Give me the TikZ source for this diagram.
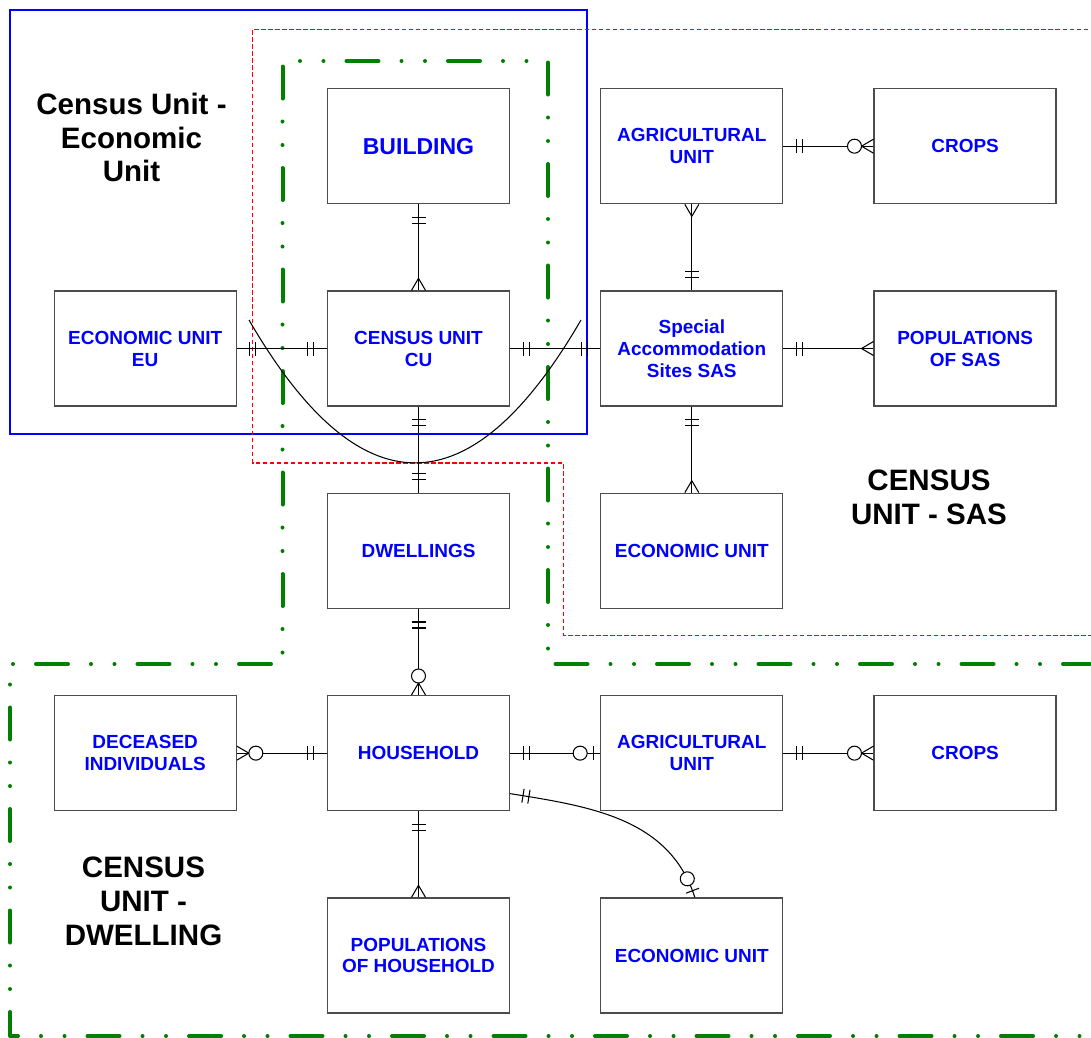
\documentclass[tikz,border=0pt]{standalone}
\usepackage{fontspec}
\setmainfont{Liberation Sans}
\usepackage{xcolor}
\usepackage{tikz}
\usetikzlibrary{positioning, decorations.markings}
\definecolor{entblue}{RGB}{0, 0, 255}
\definecolor{zonegreen}{RGB}{0, 128, 0}
\definecolor{zonered}{RGB}{255, 0, 0}

\begin{document}
\begin{tikzpicture}[node distance=1.72cm and 1.8cm,
        entity/.style={draw=black!70, line width=0.75pt, minimum width=3.64cm,
                    minimum height=2.3cm, inner sep=0pt, align=center, text=entblue,
                    font=\bfseries\fontsize{10.8}{12.5}\selectfont},
        zonelabel/.style={align=center, font=\bfseries\fontsize{16.8}{19.3}\selectfont},
        rel/.style={draw, line width=0.6pt},
        one start/.style={postaction={decorate, decoration={markings,
            mark=at position 0.26cm with {\draw[line width=0.6pt] (0,-0.14cm) -- (0,0.14cm);},
            mark=at position 0.38cm with {\draw[line width=0.6pt] (0,-0.14cm) -- (0,0.14cm);}}}},
        one end/.style={postaction={decorate, decoration={markings,
            mark=at position -0.38cm with {\draw[line width=0.6pt] (0,-0.14cm) -- (0,0.14cm);},
            mark=at position -0.26cm with {\draw[line width=0.6pt] (0,-0.14cm) -- (0,0.14cm);}}}},
        many start/.style={postaction={decorate, decoration={markings,
            mark=at position 0.24cm with {\draw[line width=0.6pt]
                (0,0) -- (-0.24cm,0.14cm) (0,0) -- (-0.24cm,-0.14cm);}}}},
        many end/.style={postaction={decorate, decoration={markings,
            mark=at position -0.24cm with {\draw[line width=0.6pt]
                (0,0) -- (0.24cm,0.14cm) (0,0) -- (0.24cm,-0.14cm);}}}},
        zmany end/.style={many end, postaction={decorate, decoration={markings,
            mark=at position -0.38cm with {\draw[line width=0.6pt, fill=white]
                (0,0) circle (0.14cm);}}}},
        zone end/.style={postaction={decorate, decoration={markings,
            mark=at position -0.14cm with {\draw[line width=0.6pt] (0,-0.14cm) -- (0,0.14cm);},
            mark=at position -0.40cm with {\draw[line width=0.6pt, fill=white]
                (0,0) circle (0.14cm);}}}}]
        \useasboundingbox (0,0) rectangle (21.82,-20.74);

        % zone outlines
        \draw[blue, line width=0.6pt] (0.2,-0.2) rectangle (11.74,-8.68);
        \draw[zonered, line width=0.6pt, dash pattern=on 2.5pt off 1.5pt]
            (21.9,-0.586) -- (5.05,-0.586) -- (5.05,-9.26) -- (11.27,-9.26)
            -- (11.27,-12.71) -- (21.9,-12.71);
        \draw[zonegreen, line width=0.08cm, line cap=round, line join=round,
              dash pattern=on 0.64cm off 0.46cm on 0cm off 0.47cm on 0cm off 0.46cm]
            (21.9,-13.28) -- (10.96,-13.28) -- (10.96,-1.22) -- (5.65,-1.22)
            -- (5.65,-13.28) -- (0.2,-13.28) -- (0.2,-20.72) -- (21.9,-20.72);

        % entities
        \node[entity] (cu) at (8.37,-6.97) {CENSUS UNIT\\CU};
        \node[entity, above=of cu, font=\bfseries\fontsize{13.1}{15}\selectfont]
              (building) {BUILDING};
        \node[entity, left=of cu] (eu) {ECONOMIC UNIT\\EU};
        \node[entity, right=of cu] (sas) {Special\\Accommodation\\Sites SAS};
        \node[entity, above=of sas] (agritop) {AGRICULTURAL\\UNIT};
        \node[entity, right=of agritop] (cropstop) {CROPS};
        \node[entity, right=of sas] (popsas) {POPULATIONS\\OF SAS};
        \node[entity, below=of sas] (eusas) {ECONOMIC UNIT};
        \node[entity, below=of cu] (dwell) {DWELLINGS};
        \node[entity, below=of dwell] (household) {HOUSEHOLD};
        \node[entity, left=of household] (deceased) {DECEASED\\INDIVIDUALS};
        \node[entity, right=of household] (agri) {AGRICULTURAL\\UNIT};
        \node[entity, right=of agri] (crops) {CROPS};
        \node[entity, below=of household] (pophh) {POPULATIONS\\OF HOUSEHOLD};
        \node[entity, below=of agri] (euhh) {ECONOMIC UNIT};

        % relationships
        \draw[rel, one start, one end] (eu) -- (cu);
        \draw[rel, one start, one end] (cu) -- (sas);
        \draw[rel, one start, many end] (building) -- (cu);
        \draw[rel, one start, one end] (cu) -- (dwell);
        \draw[rel, many start, one end] (agritop) -- (sas);
        \draw[rel, one start, zmany end] (agritop) -- (cropstop);
        \draw[rel, one start, many end] (sas) -- (popsas);
        \draw[rel, one start, many end] (sas) -- (eusas);
        \draw[rel, one start, zmany end] (dwell) -- (household);
        \draw[rel, one start, zmany end] (household) -- (deceased);
        \draw[rel, one start, zone end] (household) -- (agri);
        \draw[rel, one start, zmany end] (agri) -- (crops);
        \draw[rel, one start, many end] (household) -- (pophh);
        \draw[rel, one start, zone end] ([yshift=-0.81cm]household.east)
            to[out=-9, in=108] ([xshift=0.06cm]euhh.north);

        % bend through the census unit
        \draw[line width=0.6pt] (4.98,-6.4) .. controls (7.19,-10.21)
            and (9.41,-10.21) .. (11.62,-6.4);

        % zone labels
        \node[zonelabel] (lbleco) at (2.63,-2.75) {Census Unit -\\Economic\\Unit};
        \node[zonelabel] (lblsas) at (18.58,-9.94) {CENSUS\\UNIT - SAS};
        \node[zonelabel] (lbldwell) at (2.87,-18.02) {CENSUS\\UNIT -\\DWELLING};
    \end{tikzpicture}
\end{document}
